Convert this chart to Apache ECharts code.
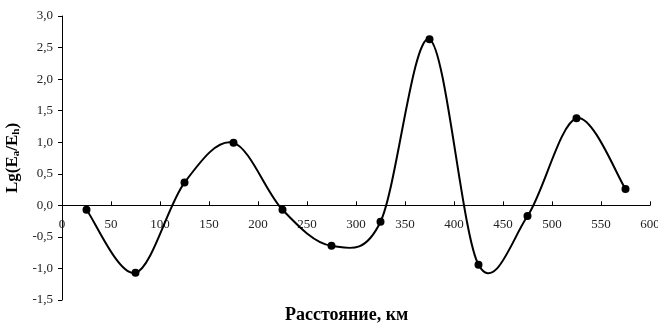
<!DOCTYPE html>
<html>
<head>
<meta charset="utf-8">
<script src="https://cdn.jsdelivr.net/npm/echarts@6/dist/echarts.min.js"></script>
<style>
  html, body { margin: 0; padding: 0; background: #fff; }
  #main { width: 658px; height: 328px; }
</style>
</head>
<body>
<div id="main"></div>
<script>
// расстояние, км
const distance = [25, 75, 125, 175, 225, 275, 325, 375, 425, 475, 525, 575]
// Lg(Ea/Eh)
const lgRatio = [-0.07, -1.07, 0.36, 0.99, -0.07, -0.64, -0.26, 2.63, -0.94, -0.17, 1.38, 0.26]

const font = 'Liberation Serif'
const yMin = -1.5
const yMax = 3
const gridTop = 16
const gridBottom = 28
const myChart = echarts.init(document.getElementById('main'))

// ось X проходит через ноль — сдвигаем её вверх от низа сетки
const gridH = 328 - gridTop - gridBottom
const xOffset = -gridH * (0 - yMin) / (yMax - yMin)

// сглаженная линия как в Excel (Catmull-Rom), точки берём через api.coord
function renderCurve(params, api) {
  const pts = distance.map((d, i) => api.coord([d, lgRatio[i]]))
  const n = pts.length
  const children = []
  for (let i = 0; i < n - 1; i++) {
    const p0 = pts[Math.max(i - 1, 0)]
    const p1 = pts[i]
    const p2 = pts[i + 1]
    const p3 = pts[Math.min(i + 2, n - 1)]
    children.push({
      type: 'bezierCurve',
      shape: {
        x1: p1[0], y1: p1[1],
        x2: p2[0], y2: p2[1],
        cpx1: p1[0] + (p2[0] - p0[0]) / 6,
        cpy1: p1[1] + (p2[1] - p0[1]) / 6,
        cpx2: p2[0] - (p3[0] - p1[0]) / 6,
        cpy2: p2[1] - (p3[1] - p1[1]) / 6,
      },
      style: { stroke: '#000', lineWidth: 2, fill: null },
    })
  }
  return { type: 'group', children }
}

const option = {
  backgroundColor: '#fff',
  animation: false,
  title: {
    text: 'Расстояние, км',
    left: 280,
    top: 301,
    textStyle: { fontFamily: font, fontSize: 18, fontWeight: 'bold', color: '#000' },
  },
  grid: { left: 62, right: 8, top: gridTop, bottom: gridBottom, outerBoundsMode: 'none', containLabel: false },
  xAxis: {
    type: 'value',
    min: 0,
    max: 600,
    interval: 50,
    offset: xOffset,
    axisLine: { onZero: false, lineStyle: { color: '#000', width: 1 } },
    axisTick: { show: true, inside: true, length: 4, lineStyle: { color: '#000' } },
    axisLabel: {
      margin: 13,
      fontFamily: font,
      fontSize: 13,
      color: '#222',
      showMaxLabel: true,
    },
    splitLine: { show: false },
  },
  yAxis: {
    type: 'value',
    min: yMin,
    max: yMax,
    interval: 0.5,
    name: '{n|Lg(E}{s|a}{n|/E}{s|h}{n|)}',
    nameLocation: 'middle',
    nameGap: 38,
    nameTextStyle: {
      rich: {
        n: { fontFamily: font, fontSize: 17, fontWeight: 'bold', color: '#000' },
        s: { fontFamily: font, fontSize: 11, fontWeight: 'bold', color: '#000', padding: [6, 0, 0, 0] },
      },
    },
    axisLine: { show: true, onZero: false, lineStyle: { color: '#000', width: 1 } },
    axisTick: { show: true, length: 4, lineStyle: { color: '#000' } },
    axisLabel: {
      margin: 9,
      fontFamily: font,
      fontSize: 13,
      color: '#222',
      formatter: v => v.toFixed(1).replace('.', ','),
    },
    splitLine: { show: false },
  },
  series: [
    {
      type: 'custom',
      renderItem: renderCurve,
      data: [[distance[0], lgRatio[0]]],
      silent: true,
      z: 1,
    },
    {
      type: 'scatter',
      data: distance.map((d, i) => [d, lgRatio[i]]),
      symbol: 'circle',
      symbolSize: 8,
      itemStyle: { color: '#000', opacity: 1 },
      z: 2,
    },
  ],
}

option && myChart.setOption(option)
</script>
</body>
</html>
